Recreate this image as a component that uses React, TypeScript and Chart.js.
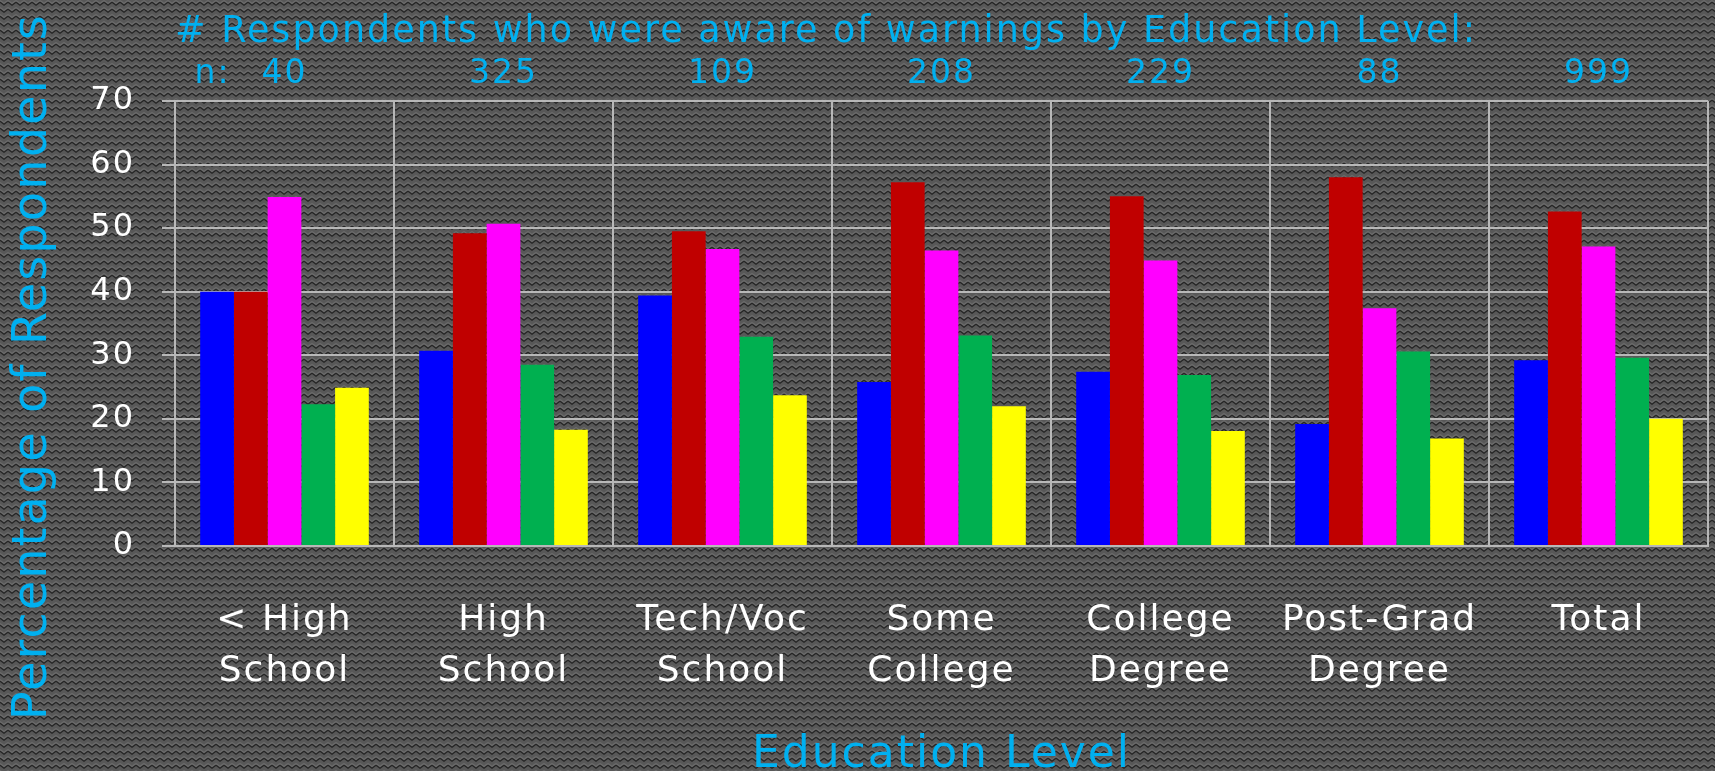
import React, { useEffect, useRef } from 'react';
import { Chart, registerables } from 'chart.js';

Chart.register(...registerables);

// ---- Data ----
const categories: string[][] = [
  ['< High', 'School'],
  ['High', 'School'],
  ['Tech/Voc', 'School'],
  ['Some', 'College'],
  ['College', 'Degree'],
  ['Post-Grad', 'Degree'],
  ['Total'],
];
const respondentCounts: string[] = ['40', '325', '109', '208', '229', '88', '999'];
const countPrefix = 'n:';

const seriesNames: string[] = ['Series 1', 'Series 2', 'Series 3', 'Series 4', 'Series 5'];
const series1: number[] = [40.0, 30.7, 39.4, 25.8, 27.4, 19.2, 29.2];
const series2: number[] = [40.0, 49.2, 49.5, 57.2, 55.0, 58.0, 52.6];
const series3: number[] = [54.9, 50.7, 46.7, 46.5, 44.9, 37.4, 47.1];
const series4: number[] = [22.3, 28.5, 32.9, 33.1, 26.9, 30.6, 29.6];
const series5: number[] = [24.9, 18.3, 23.7, 22.0, 18.1, 16.9, 20.0];
const seriesColors: string[] = ['#0000FF', '#C00000', '#FF00FF', '#00B050', '#FFFF00'];

const yMin = 0;
const yMax = 70;
const yStep = 10;

const chartTitle = '# Respondents who were aware of warnings by Education Level:';
const yTitle = 'Percentage of Respondents';
const xTitle = 'Education Level';

// ---- Styles ----
const CYAN = '#00B0F0';
const GRID = '#b8b8b8';
const FONT = '"DejaVu Sans", "Verdana", sans-serif';
const SPACING = '2px';

function makePattern(ctx: CanvasRenderingContext2D): CanvasPattern | string {
  const tile = document.createElement('canvas');
  tile.width = 8;
  tile.height = 7;
  const t = tile.getContext('2d');
  if (!t) return '#4d4d4d';
  t.fillStyle = '#585858';
  t.fillRect(0, 0, 8, 7);
  t.lineWidth = 1.3;
  t.strokeStyle = '#6c6c6c';
  t.beginPath();
  t.moveTo(0, 0.5);
  t.lineTo(4, 3.5);
  t.lineTo(8, 0.5);
  t.stroke();
  t.strokeStyle = '#242424';
  t.beginPath();
  t.moveTo(0, 2.2);
  t.lineTo(4, 5.2);
  t.lineTo(8, 2.2);
  t.stroke();
  return ctx.createPattern(tile, 'repeat') || '#4d4d4d';
}

const spacingPlugin = {
  id: 'letterSpacing',
  beforeUpdate(chart: any) {
    chart.ctx.letterSpacing = SPACING;
  },
  beforeDraw(chart: any) {
    chart.ctx.letterSpacing = SPACING;
  },
};

const backgroundPlugin = {
  id: 'patternBackground',
  beforeDraw(chart: any) {
    const ctx = chart.ctx as CanvasRenderingContext2D;
    ctx.save();
    ctx.fillStyle = makePattern(ctx) as any;
    ctx.fillRect(0, 0, chart.width, chart.height);
    ctx.restore();
  },
};

const countPrefixPlugin = {
  id: 'countPrefix',
  afterDraw(chart: any) {
    const s = chart.scales.x2;
    if (!s) return;
    const ctx = chart.ctx as CanvasRenderingContext2D;
    const size = 33;
    ctx.save();
    (ctx as any).letterSpacing = SPACING;
    ctx.font = `${size}px ${FONT}`;
    ctx.fillStyle = CYAN;
    ctx.textAlign = 'center';
    ctx.textBaseline = 'middle';
    ctx.fillText(countPrefix, s.getPixelForTick(0) - 72, s.bottom - 7 - (size * 1.2) / 2);
    ctx.restore();
  },
};

export default function App() {
  const canvasRef = useRef<HTMLCanvasElement | null>(null);

  useEffect(() => {
    document.body.style.margin = '0';
    document.body.style.background = '#4d4d4d';
    const canvas = canvasRef.current;
    if (!canvas) return;
    const allSeries = [series1, series2, series3, series4, series5];
    const chart = new Chart(canvas, {
      type: 'bar',
      data: {
        labels: categories,
        datasets: allSeries.map((d, i) => ({
          label: seriesNames[i],
          data: d,
          backgroundColor: seriesColors[i],
          borderWidth: 0,
          categoryPercentage: 0.77,
          barPercentage: 1.0,
        })),
      },
      options: {
        responsive: false,
        animation: false,
        devicePixelRatio: 1,
        layout: { padding: { left: 0, right: 7, top: 0, bottom: 0 } },
        plugins: {
          legend: { display: false },
          tooltip: { enabled: false },
          title: { display: false },
        },
        scales: {
          x: {
            type: 'category',
            position: 'bottom',
            offset: true,
            grid: { display: true, offset: true, color: GRID, lineWidth: 2, drawTicks: false },
            border: { display: true, color: GRID, width: 2 },
            ticks: {
              color: '#ffffff',
              font: { family: FONT, size: 36, lineHeight: 1.42 },
              padding: 49,
              maxRotation: 0,
              minRotation: 0,
              autoSkip: false,
            },
            title: {
              display: true,
              text: xTitle,
              color: CYAN,
              font: { family: FONT, size: 44, lineHeight: 0.68 },
              padding: { top: 0, bottom: 0 },
            },
            afterFit(scale: any) {
              scale.height = 225;
            },
          },
          x2: {
            type: 'category',
            axis: 'x',
            position: 'top',
            labels: respondentCounts,
            offset: true,
            grid: { display: false, drawTicks: false },
            border: { display: false },
            ticks: {
              color: CYAN,
              font: { family: FONT, size: 33, lineHeight: 1.2 },
              padding: 7,
              maxRotation: 0,
              minRotation: 0,
              autoSkip: false,
            },
            title: {
              display: true,
              text: chartTitle,
              align: 'start',
              color: CYAN,
              font: { family: FONT, size: 36.5, lineHeight: 1.2 },
              padding: { top: 11, bottom: 0 },
            },
            afterFit(scale: any) {
              scale.height = 101;
            },
          },
          y: {
            type: 'linear',
            position: 'left',
            min: yMin,
            max: yMax,
            grid: { color: GRID, lineWidth: 2, drawTicks: true, tickLength: 13 },
            border: { display: true, color: GRID, width: 2 },
            ticks: {
              stepSize: yStep,
              color: '#ffffff',
              font: { family: FONT, size: 32 },
              padding: 27,
            },
            title: {
              display: true,
              text: yTitle + '     ',
              color: CYAN,
              font: { family: FONT, size: 48, lineHeight: 1 },
              padding: { top: 9.5, bottom: 0 },
            },
            afterFit(scale: any) {
              scale.width = 175;
            },
          },
        },
      } as any,
      plugins: [spacingPlugin, backgroundPlugin, countPrefixPlugin],
    });
    return () => {
      chart.destroy();
    };
  }, []);

  return (
    <div style={{ width: 1715, height: 771 }}>
      <canvas ref={canvasRef} width={1715} height={771} style={{ display: 'block' }} />
    </div>
  );
}
